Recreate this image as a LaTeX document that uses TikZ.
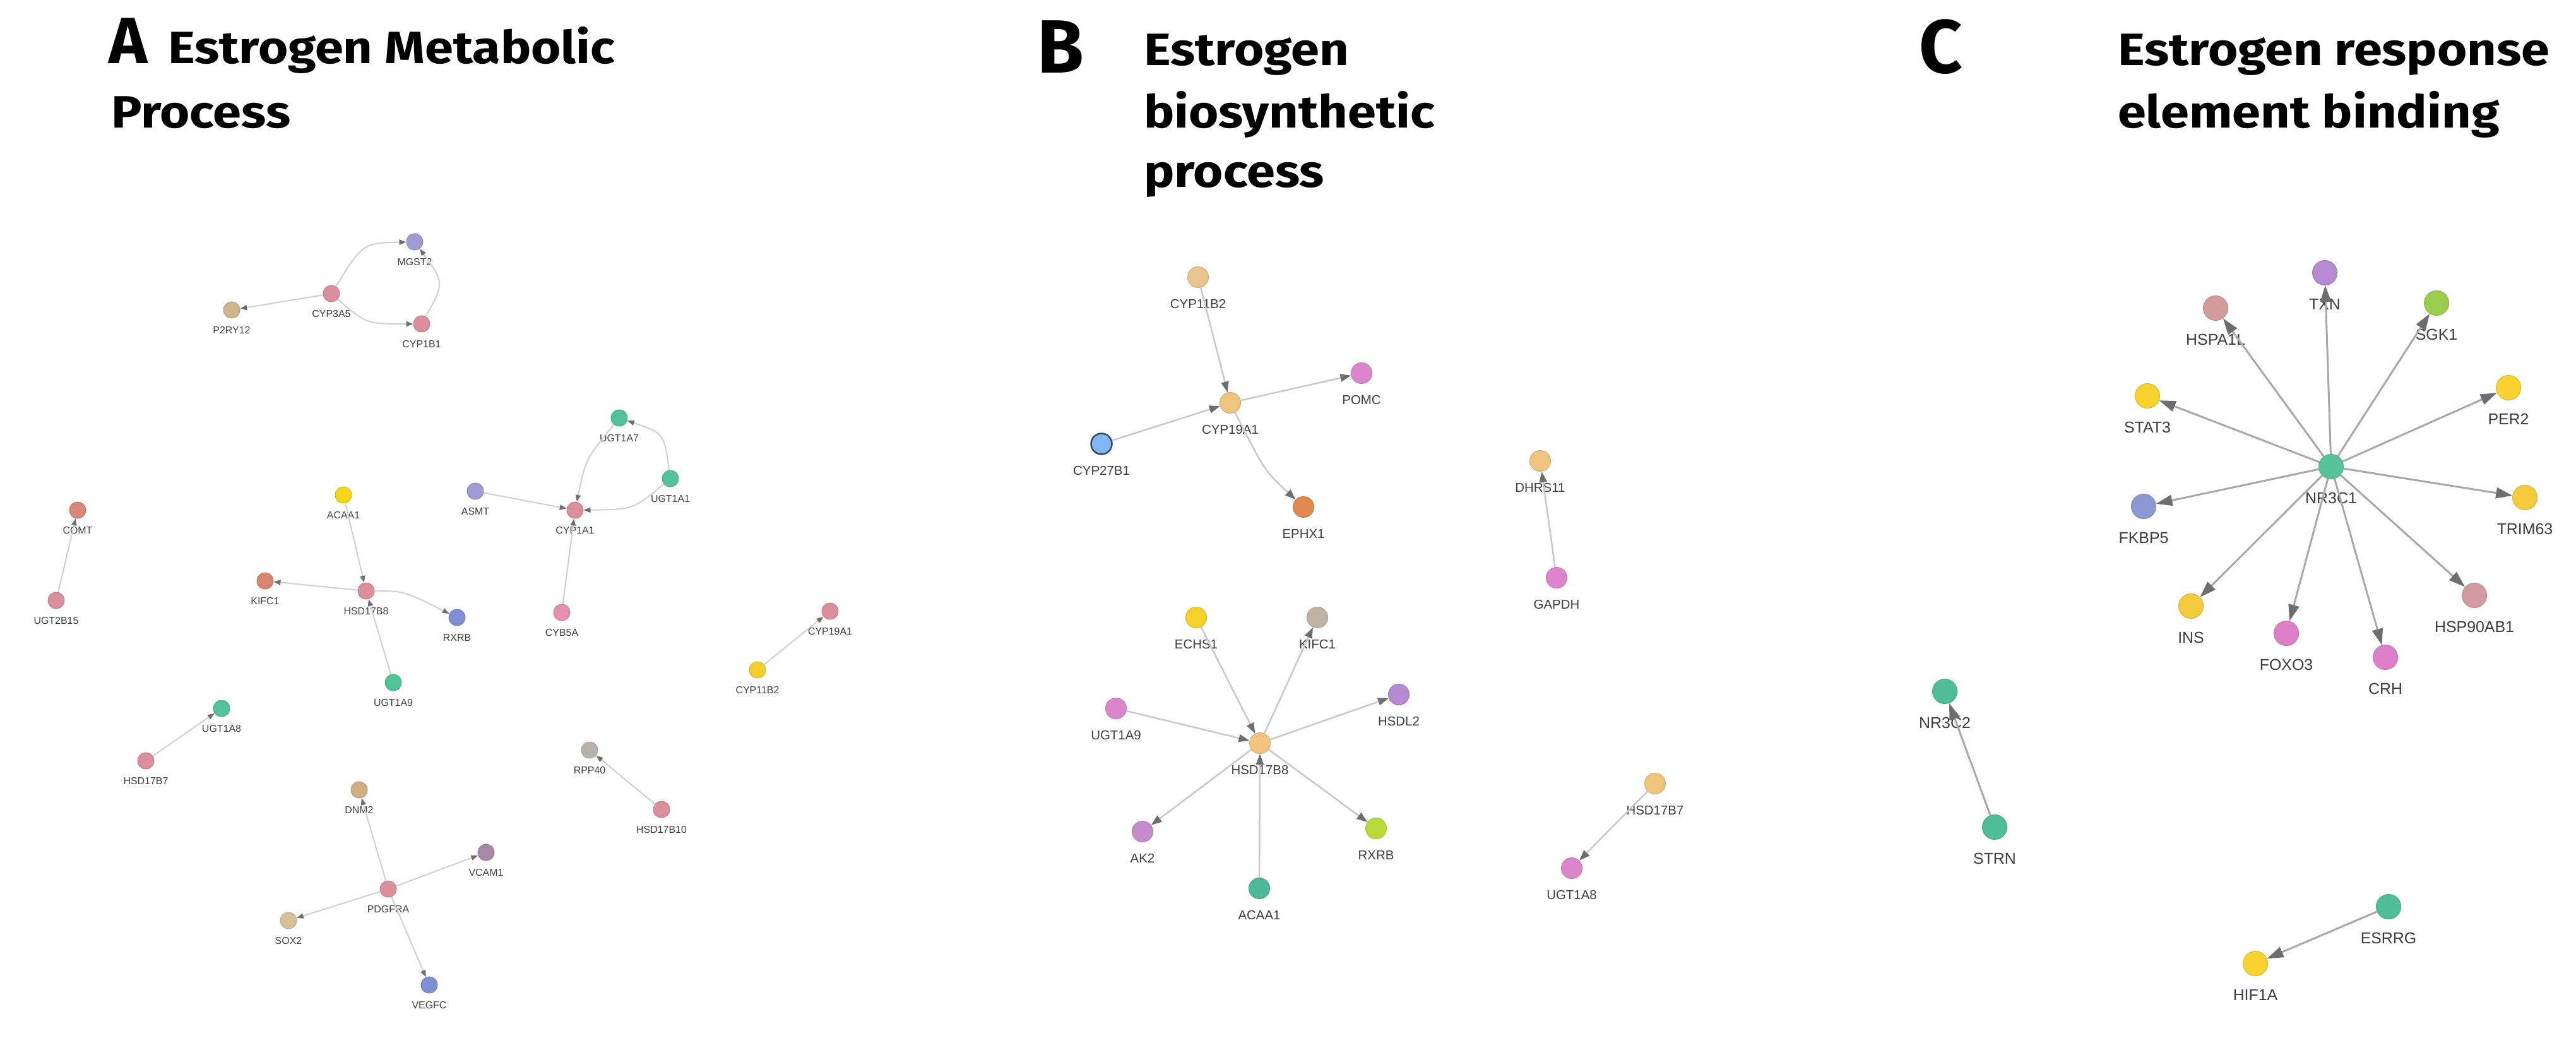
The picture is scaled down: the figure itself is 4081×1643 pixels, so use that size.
\documentclass[tikz,border=0pt]{standalone}
\usepackage{graphicx}
\usepackage{fontspec}
\setmainfont{Liberation Sans}
\newfontfamily\titlefont{Fira Sans}
\usetikzlibrary{arrows.meta}
% node colours
\definecolor{apink}{HTML}{DB8E9C}
\definecolor{apink2}{HTML}{E490AE}
\definecolor{alav}{HTML}{9E9BD2}
\definecolor{atan}{HTML}{CDB58E}
\definecolor{atan2}{HTML}{D6C09A}
\definecolor{adnm}{HTML}{CFAF83}
\definecolor{agreen}{HTML}{52C29B}
\definecolor{ayellow}{HTML}{F5D515}
\definecolor{ayellow2}{HTML}{F5CE2E}
\definecolor{asalmon}{HTML}{D8877A}
\definecolor{akifc}{HTML}{D88670}
\definecolor{ablue}{HTML}{7E90D4}
\definecolor{agray}{HTML}{B7B2AD}
\definecolor{amauve}{HTML}{A88AA6}
\definecolor{btan}{HTML}{EAC48E}
\definecolor{bgold}{HTML}{EEC47E}
\definecolor{bmag}{HTML}{DD85CC}
\definecolor{bsky}{HTML}{82B6F7}
\definecolor{bskyrim}{HTML}{34495E}
\definecolor{borange}{HTML}{E2894F}
\definecolor{byellow}{HTML}{F7D12A}
\definecolor{bgray}{HTML}{BFB3A3}
\definecolor{bpurple}{HTML}{B38BD0}
\definecolor{bplum}{HTML}{C58BCB}
\definecolor{blime}{HTML}{B9D93A}
\definecolor{bgreen}{HTML}{4EB996}
\definecolor{cpurple}{HTML}{B58AD2}
\definecolor{crose}{HTML}{D29C98}
\definecolor{clime}{HTML}{9CCC4C}
\definecolor{cyellow}{HTML}{F8D330}
\definecolor{cyellow2}{HTML}{F3CB3C}
\definecolor{cgreen}{HTML}{57C29C}
\definecolor{cblue}{HTML}{8C98D2}
\definecolor{cmag}{HTML}{DD80C9}
\definecolor{crose2}{HTML}{D39AA2}
\definecolor{cgreen2}{HTML}{4FBD97}
% line colours
\definecolor{edgeA}{HTML}{CFCFCF}
\definecolor{edgeB}{HTML}{C8C8C8}
\definecolor{edgeC}{HTML}{A8A8A8}
\definecolor{tipgray}{HTML}{6E6E6E}
\definecolor{lblgray}{HTML}{3E3E3E}
\tikzset{
  gA/.style={circle, minimum size=26bp, inner sep=0pt, line width=1bp},
  gB/.style={circle, minimum size=33bp, inner sep=0pt, line width=1bp},
  gC/.style={circle, minimum size=39bp, inner sep=0pt, line width=1bp},
  tA/.style={font=\fontsize{16}{16}\selectfont, text=lblgray, inner sep=0pt},
  tB/.style={font=\fontsize{20.5}{20.5}\selectfont, text=lblgray, inner sep=0pt},
  tC/.style={font=\fontsize{25}{25}\selectfont, text=lblgray, inner sep=0pt},
  eA/.style={draw=edgeA, line width=2bp, -{Triangle[length=11bp,width=8bp,color=tipgray]}},
  eB/.style={draw=edgeB, line width=2.5bp, -{Triangle[length=17bp,width=12bp,color=tipgray]}},
  eC/.style={draw=edgeC, line width=3bp, -{Triangle[length=26bp,width=17bp,color=tipgray]}},
  ttl/.style={font=\titlefont\bfseries\fontsize{72}{72}\selectfont, inner sep=0pt, anchor=base west},
  panelA/.style={font=\titlefont\bfseries\fontsize{104}{104}\selectfont, inner sep=0pt, anchor=base west},
  panelB/.style={font=\titlefont\bfseries\fontsize{120}{120}\selectfont, inner sep=0pt, anchor=base west}
}
\newcommand{\wide}[1]{\scalebox{1.13}[1]{#1}}
\newcommand{\gnA}[5]{\node[gA, fill=#4, draw=#4!88!black] (#1) at (#2,#3) {};
  \node[tA] (#1-l) at ([yshift=-32bp]#1.center) {#5};}
\newcommand{\gnB}[5]{\node[gB, fill=#4, draw=#4!88!black] (#1) at (#2,#3) {};
  \node[tB] (#1-l) at ([yshift=-42bp]#1.center) {#5};}
\newcommand{\gnC}[5]{\node[gC, fill=#4, draw=#4!88!black] (#1) at (#2,#3) {};
  \node[tC] (#1-l) at ([yshift=-50bp]#1.center) {#5};}
\begin{document}
\begin{tikzpicture}[x=1bp,y=-1bp]
\useasboundingbox[fill=white] (0,0) rectangle (4081,1643);
% ---------------- titles
\node[panelA] (pA) at (172,100) {A};
\node[ttl] (tA1) at (266,100) {\wide{Estrogen Metabolic}};
\node[ttl] (tA2) at (176,202) {\wide{Process}};
\node[panelB] (pB) at (1643,115) {B};
\node[ttl] (tB1) at (1812,103) {\wide{Estrogen}};
\node[ttl] (tB2) at (1812,202) {\wide{biosynthetic}};
\node[ttl] (tB3) at (1812,296) {\wide{process}};
\node[panelB] (pC) at (3040,115) {C};
\node[ttl] (tC1) at (3355,103) {\wide{Estrogen response}};
\node[ttl] (tC2) at (3355,202) {\wide{element binding}};
% ---------------- panel A nodes
\gnA{a-mgst2}{657}{383}{alav}{MGST2}
\gnA{a-cyp3a5}{525}{465}{apink}{CYP3A5}
\gnA{a-p2ry12}{367}{491}{atan}{P2RY12}
\gnA{a-cyp1b1}{668}{513}{apink}{CYP1B1}
\gnA{a-ugt1a7}{981}{662}{agreen}{UGT1A7}
\gnA{a-ugt1a1}{1062}{758}{agreen}{UGT1A1}
\gnA{a-asmt}{753}{778}{alav}{ASMT}
\gnA{a-cyp1a1}{911}{808}{apink}{CYP1A1}
\gnA{a-acaa1}{544}{784}{ayellow}{ACAA1}
\gnA{a-comt}{123}{808}{asalmon}{COMT}
\gnA{a-ugt2b15}{89}{951}{apink}{UGT2B15}
\gnA{a-kifc1}{420}{920}{akifc}{KIFC1}
\gnA{a-hsd17b8}{580}{936}{apink}{HSD17B8}
\gnA{a-rxrb}{724}{978}{ablue}{RXRB}
\gnA{a-cyb5a}{890}{970}{apink2}{CYB5A}
\gnA{a-cyp19a1}{1315}{968}{apink}{CYP19A1}
\gnA{a-cyp11b2}{1200}{1061}{ayellow2}{CYP11B2}
\gnA{a-ugt1a9}{623}{1081}{agreen}{UGT1A9}
\gnA{a-ugt1a8}{351}{1122}{agreen}{UGT1A8}
\gnA{a-hsd17b7}{231}{1205}{apink}{HSD17B7}
\gnA{a-rpp40}{934}{1188}{agray}{RPP40}
\gnA{a-hsd17b10}{1048}{1282}{apink}{HSD17B10}
\gnA{a-dnm2}{569}{1251}{adnm}{DNM2}
\gnA{a-vcam1}{770}{1350}{amauve}{VCAM1}
\gnA{a-pdgfra}{615}{1408}{apink}{PDGFRA}
\gnA{a-sox2}{457}{1458}{atan2}{SOX2}
\gnA{a-vegfc}{680}{1560}{ablue}{VEGFC}
% panel A edges
\draw[eA] (a-cyp3a5) .. controls (575,385) .. (a-mgst2);
\draw[eA] (a-cyp3a5) -- (a-p2ry12);
\draw[eA] (a-cyp3a5) .. controls (580,513) .. (a-cyp1b1);
\draw[eA] (a-cyp1b1) .. controls (704,448) .. (a-mgst2);
\draw[eA] (a-ugt1a1) .. controls (1052,686) .. (a-ugt1a7);
\draw[eA] (a-ugt1a7) .. controls (928,727) .. (a-cyp1a1);
\draw[eA] (a-ugt1a1) .. controls (1003,807) .. (a-cyp1a1);
\draw[eA] (a-asmt) -- (a-cyp1a1);
\draw[eA] (a-cyb5a) -- (a-cyp1a1);
\draw[eA] (a-ugt2b15) -- (a-comt);
\draw[eA] (a-acaa1) -- (a-hsd17b8);
\draw[eA] (a-hsd17b8) -- (a-kifc1);
\draw[eA] (a-hsd17b8) .. controls (640,936) .. (a-rxrb);
\draw[eA] (a-ugt1a9) -- (a-hsd17b8);
\draw[eA] (a-cyp11b2) -- (a-cyp19a1);
\draw[eA] (a-hsd17b7) -- (a-ugt1a8);
\draw[eA] (a-hsd17b10) -- (a-rpp40);
\draw[eA] (a-pdgfra) -- (a-dnm2);
\draw[eA] (a-pdgfra) -- (a-vcam1);
\draw[eA] (a-pdgfra) -- (a-sox2);
\draw[eA] (a-pdgfra) -- (a-vegfc);
% ---------------- panel B nodes
\gnB{b-cyp11b2}{1898}{439}{btan}{CYP11B2}
\gnB{b-cyp19a1}{1949}{638}{bgold}{CYP19A1}
\gnB{b-pomc}{2157}{591}{bmag}{POMC}
\node[gB, fill=bsky, draw=bskyrim, line width=2.5bp] (b-cyp27b1) at (1745,703) {};
\node[tB] (b-cyp27b1-l) at ([yshift=-42bp]b-cyp27b1.center) {CYP27B1};
\gnB{b-ephx1}{2065}{803}{borange}{EPHX1}
\gnB{b-dhrs11}{2440}{730}{bgold}{DHRS11}
\gnB{b-gapdh}{2466}{915}{bmag}{GAPDH}
\gnB{b-echs1}{1895}{978}{byellow}{ECHS1}
\gnB{b-kifc1}{2087}{978}{bgray}{KIFC1}
\gnB{b-hsdl2}{2216}{1100}{bpurple}{HSDL2}
\gnB{b-ugt1a9}{1768}{1122}{bmag}{UGT1A9}
\gnB{b-hsd17b8}{1996}{1177}{bgold}{HSD17B8}
\gnB{b-ak2}{1810}{1317}{bplum}{AK2}
\gnB{b-rxrb}{2180}{1312}{blime}{RXRB}
\gnB{b-acaa1}{1995}{1407}{bgreen}{ACAA1}
\gnB{b-hsd17b7}{2622}{1241}{bgold}{HSD17B7}
\gnB{b-ugt1a8}{2490}{1375}{bmag}{UGT1A8}
% panel B edges
\draw[eB] (b-cyp11b2) -- (b-cyp19a1);
\draw[eB] (b-cyp27b1) -- (b-cyp19a1);
\draw[eB] (b-cyp19a1) -- (b-pomc);
\draw[eB] (b-cyp19a1) .. controls (2003,745) .. (b-ephx1);
\draw[eB] (b-gapdh) -- (b-dhrs11);
\draw[eB] (b-echs1) -- (b-hsd17b8);
\draw[eB] (b-hsd17b8) -- (b-kifc1);
\draw[eB] (b-hsd17b8) -- (b-hsdl2);
\draw[eB] (b-ugt1a9) -- (b-hsd17b8);
\draw[eB] (b-hsd17b8) -- (b-ak2);
\draw[eB] (b-hsd17b8) -- (b-rxrb);
\draw[eB] (b-acaa1) -- (b-hsd17b8);
\draw[eB] (b-hsd17b7) -- (b-ugt1a8);
% ---------------- panel C nodes
\gnC{c-txn}{3683}{432}{cpurple}{TXN}
\gnC{c-hspa1l}{3510}{488}{crose}{HSPA1L}
\gnC{c-sgk1}{3860}{480}{clime}{SGK1}
\gnC{c-stat3}{3402}{627}{cyellow}{STAT3}
\gnC{c-per2}{3974}{614}{cyellow}{PER2}
\gnC{c-nr3c1}{3693}{739}{cgreen}{NR3C1}
\gnC{c-fkbp5}{3396}{802}{cblue}{FKBP5}
\gnC{c-trim63}{4000}{788}{cyellow2}{TRIM63}
\gnC{c-ins}{3471}{960}{cyellow2}{INS}
\gnC{c-foxo3}{3622}{1003}{cmag}{FOXO3}
\gnC{c-crh}{3779}{1041}{cmag}{CRH}
\gnC{c-hsp90ab1}{3920}{943}{crose2}{HSP90AB1}
\gnC{c-nr3c2}{3081}{1095}{cgreen2}{NR3C2}
\gnC{c-strn}{3160}{1310}{cgreen2}{STRN}
\gnC{c-esrrg}{3784}{1436}{cgreen2}{ESRRG}
\gnC{c-hif1a}{3573}{1526}{cyellow}{HIF1A}
% panel C edges
\foreach \t in {txn,hspa1l,sgk1,stat3,per2,fkbp5,trim63,ins,foxo3,crh,hsp90ab1}
  \draw[eC] (c-nr3c1) -- (c-\t);
\draw[eC] (c-strn) -- (c-nr3c2);
\draw[eC] (c-esrrg) -- (c-hif1a);
\end{tikzpicture}
\end{document}
